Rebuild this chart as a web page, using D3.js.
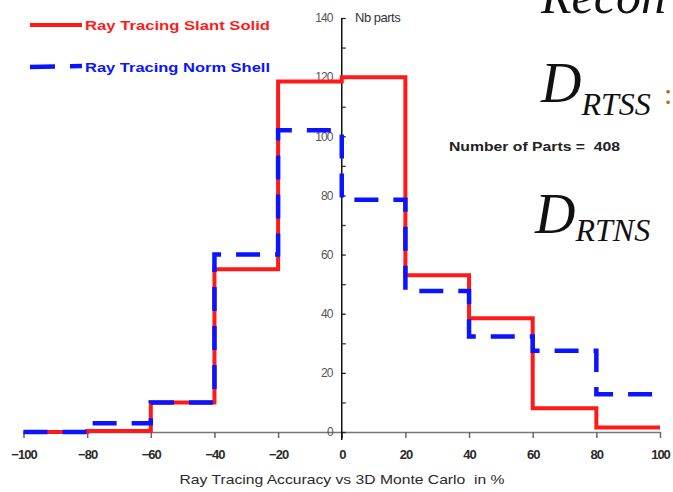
<!DOCTYPE html>
<html><head><meta charset="utf-8">
<script src="https://cdn.jsdelivr.net/npm/d3@7"></script>
<style>body{margin:0;background:#fff}svg{display:block}</style>
</head><body>
<svg id="c" width="673" height="492"></svg>
<script>
const binStarts = [-100,-80,-60,-40,-20,0,20,40,60,80];
const slantSolid = [0,0.3,10,55,118.5,120,53,38.5,8,1.5];
const normShell = [0,3,10,60,102,78.5,47.7,32.3,27.5,12.8];
const xTicks = [-100,-80,-60,-40,-20,0,20,40,60,80,100];
const yTicks = [0,20,40,60,80,100,120,140];
const yMinor = [10,30,50,70,90,110,130];
const seriesNames = ["Ray Tracing Slant Solid","Ray Tracing Norm Shell"];
const totalParts = 408;

const svg = d3.select("#c");
const x = d3.scaleLinear().domain([-100,100]).range([23.5,660]);
const y = d3.scaleLinear().domain([0,140]).range([432,18]);
const font = "Liberation Sans, Arial, sans-serif";

// x axis
const gx = svg.append("g").attr("transform",`translate(0,${y(0)})`)
  .call(d3.axisBottom(x).tickValues(xTicks).tickSizeInner(6).tickSizeOuter(0).tickPadding(12));
gx.select(".domain").attr("stroke","#777").attr("stroke-width",1.5);
gx.selectAll(".tick line").attr("stroke","#666").attr("stroke-width",1.5);
gx.selectAll(".tick text").attr("font-family",font).attr("font-size",13).attr("font-weight","bold")
  .attr("fill","#2a2a2a").attr("letter-spacing","-1px");

// y axis
const gy = svg.append("g").attr("transform",`translate(${x(0)},0)`)
  .call(d3.axisLeft(y).tickValues(yTicks).tickSizeInner(5).tickSizeOuter(0).tickPadding(4));
gy.select(".domain").remove();
gy.selectAll(".tick line").attr("stroke","#222").attr("stroke-width",1.3).attr("x2",4);
gy.selectAll(".tick text").attr("font-family",font).attr("font-size",12).attr("fill","#555")
  .attr("letter-spacing","-0.8px");
svg.append("line").attr("x1",x(0)).attr("x2",x(0)).attr("y1",y(140)).attr("y2",y(0)+8)
  .attr("stroke","#111").attr("stroke-width",1.5);
const gm = svg.append("g").attr("transform",`translate(${x(0)},0)`)
  .call(d3.axisRight(y).tickValues(yMinor).tickSize(4).tickFormat(""));
gm.select(".domain").remove();
gm.selectAll(".tick line").attr("stroke","#333").attr("stroke-width",1.3);

svg.append("text").attr("x",355).attr("y",22).attr("font-family",font).attr("font-size",13)
  .attr("fill","#333").attr("letter-spacing","-0.5px").text("Nb parts");

// step lines
const pts = vals => binStarts.map((b,i)=>[b,vals[i]]).concat([[100,vals[vals.length-1]]]);
const line = d3.line().x(d=>x(d[0])).y(d=>y(d[1])).curve(d3.curveStepAfter);
svg.append("path").attr("d",line(pts(slantSolid))).attr("fill","none")
  .attr("stroke","#ff1a1a").attr("stroke-width",4);
svg.append("path").attr("d",line(pts(normShell))).attr("fill","none")
  .attr("stroke","#0a14ff").attr("stroke-width",4.5).attr("stroke-dasharray","24,15");

// legend
svg.append("line").attr("x1",30).attr("x2",82).attr("y1",25).attr("y2",25)
  .attr("stroke","#ff1a1a").attr("stroke-width",4);
svg.append("text").attr("x",85).attr("y",30).attr("font-family",font).attr("font-weight","bold")
  .attr("font-size",13.5).attr("fill","#ff1a1a").attr("textLength",185).attr("lengthAdjust","spacingAndGlyphs")
  .text(seriesNames[0]);
svg.append("line").attr("x1",30).attr("x2",82).attr("y1",67).attr("y2",66)
  .attr("stroke","#0a14ff").attr("stroke-width",4.5).attr("stroke-dasharray","25,15");
svg.append("text").attr("x",85).attr("y",72).attr("font-family",font).attr("font-weight","bold")
  .attr("font-size",13.5).attr("fill","#0a14ff").attr("textLength",185).attr("lengthAdjust","spacingAndGlyphs")
  .text(seriesNames[1]);

// x title
svg.append("text").attr("x",342).attr("y",484).attr("text-anchor","middle").attr("font-family",font)
  .attr("font-size",13).attr("fill","#2a2a2a").attr("textLength",325).attr("lengthAdjust","spacingAndGlyphs")
  .style("white-space","pre").text("Ray Tracing Accuracy vs 3D Monte Carlo  in %");

// annotations
svg.append("text").attr("x",449).attr("y",151).attr("font-family",font).attr("font-weight","bold")
  .attr("font-size",12).attr("fill","#222").attr("textLength",171).attr("lengthAdjust","spacingAndGlyphs")
  .style("white-space","pre").text("Number of Parts =  " + totalParts);

const serif = "Liberation Serif, Times New Roman, serif";
svg.append("text").attr("x",541).attr("y",13).attr("font-family",serif).attr("font-style","italic")
  .attr("font-size",50).attr("fill","#111").text("Recon");
const d1 = svg.append("text").attr("x",541).attr("y",102).attr("font-family",serif)
  .attr("font-style","italic").attr("fill","#111");
d1.append("tspan").attr("font-size",56).text("D");
d1.append("tspan").attr("font-size",32).attr("dy",13).text("RTSS");
svg.append("text").attr("x",664).attr("y",104).attr("font-family",serif).attr("font-size",30)
  .attr("fill","#b56a10").text(":");
const d2 = svg.append("text").attr("x",535).attr("y",233).attr("font-family",serif)
  .attr("font-style","italic").attr("fill","#111");
d2.append("tspan").attr("font-size",56).text("D");
d2.append("tspan").attr("font-size",32).attr("dy",8).text("RTNS");
</script>
</body></html>
